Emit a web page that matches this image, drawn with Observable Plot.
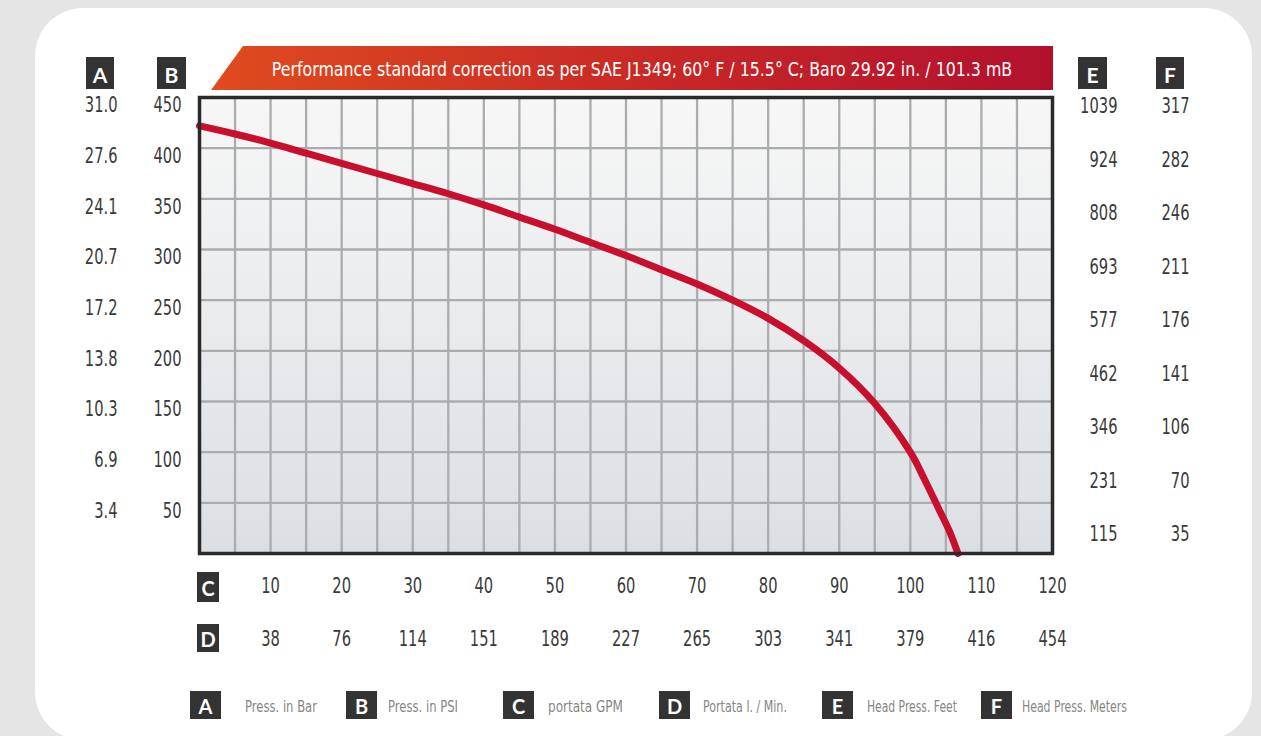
<!DOCTYPE html>
<html><head><meta charset="utf-8">
<script src="https://cdn.jsdelivr.net/npm/d3@7"></script>
<script src="https://cdn.jsdelivr.net/npm/@observablehq/plot@0.6"></script>
<style>
html,body{margin:0;padding:0;background:#e5e5e5;}
#wrap{position:relative;width:1261px;height:736px;overflow:hidden;background:#e5e5e5;}
#panel{position:absolute;left:35px;top:8px;width:1217px;height:732px;background:#fff;border-radius:48px;}
.layer{position:absolute;left:0;top:0;}
</style></head><body><div id="wrap"><div id="panel"></div></div>
<script>
// ---- data ----
const gpm = [0, 5, 10, 15, 20, 25, 30, 35, 40, 45, 50, 55, 60, 65, 70, 75, 80, 85, 90, 95, 100, 102, 104, 105.5, 106.7];
const psi = [422, 414, 405, 395, 385, 375, 365, 355, 344, 332, 320, 307, 294, 280, 266, 250, 232, 210, 183, 148, 100, 73, 44, 22, 0];

const psiTicks = [450, 400, 350, 300, 250, 200, 150, 100, 50];
const barLabels = ["31.0", "27.6", "24.1", "20.7", "17.2", "13.8", "10.3", "6.9", "3.4"];
const psiLabels = ["450", "400", "350", "300", "250", "200", "150", "100", "50"];
const feetLabels = ["1039", "924", "808", "693", "577", "462", "346", "231", "115"];
const meterLabels = ["317", "282", "246", "211", "176", "141", "106", "70", "35"];

const gpmTicks = [10, 20, 30, 40, 50, 60, 70, 80, 90, 100, 110, 120];
const gpmLabels = ["10", "20", "30", "40", "50", "60", "70", "80", "90", "100", "110", "120"];
const lpmLabels = ["38", "76", "114", "151", "189", "227", "265", "303", "341", "379", "416", "454"];

const gridX = [5,10,15,20,25,30,35,40,45,50,55,60,65,70,75,80,85,90,95,100,105,110,115];
const gridY = [50,100,150,200,250,300,350,400];

const bannerText = "Performance standard correction as per SAE J1349; 60° F / 15.5° C; Baro 29.92 in. / 101.3 mB";
const legendLetters = ["A", "B", "C", "D", "E", "F"];
const legendTexts = ["Press. in Bar", "Press. in PSI", "portata GPM", "Portata l. / Min.", "Head Press. Feet", "Head Press. Meters"];

// ---- styles ----
const FONT = "'DejaVu Sans', sans-serif";
const numStyle = {fontSize: 21, fill: "#3a3a3a", lineAnchor: "middle"};
const W = 1261, H = 736;
const wrap = document.getElementById("wrap");

const curveData = gpm.map((g, i) => ({gpm: g, psi: psi[i]}));

const main = Plot.plot({
  width: W, height: H,
  marginLeft: 199, marginRight: 209, marginTop: 97, marginBottom: 183,
  x: {domain: [0, 120], axis: null},
  y: {domain: [0, 450], axis: null},
  style: {background: "transparent", fontFamily: FONT, overflow: "visible"},
  marks: [
    Plot.frame({fill: "url(#plotBg)", stroke: "none"}),
    Plot.ruleX(gridX, {stroke: "#aaadb0", strokeWidth: 2.3}),
    Plot.ruleY(gridY, {stroke: "#aaadb0", strokeWidth: 2.3}),
    Plot.line(curveData, {x: "gpm", y: "psi", stroke: "#c8102e", strokeWidth: 7, curve: "catmull-rom"}),
    Plot.frame({stroke: "#2a2a2a", strokeWidth: 3.5}),
    Plot.text(psiTicks, {y: d => d, text: (d, i) => barLabels[i], frameAnchor: "left", dx: -82, dy: 8, textAnchor: "end", ...numStyle}),
    Plot.text(psiTicks, {y: d => d, text: (d, i) => psiLabels[i], frameAnchor: "left", dx: -18, dy: 8, textAnchor: "end", ...numStyle}),
    Plot.text(gpmTicks, {x: d => d, text: (d, i) => gpmLabels[i], frameAnchor: "bottom", dy: 33, ...numStyle}),
    Plot.text(gpmTicks, {x: d => d, text: (d, i) => lpmLabels[i], frameAnchor: "bottom", dy: 86, ...numStyle})
  ]
});
main.classList.add("layer");
const defs = d3.select(main).insert("defs", ":first-child");
const g1 = defs.append("linearGradient").attr("id", "plotBg").attr("x1", 0).attr("y1", 0).attr("x2", 0).attr("y2", 1);
g1.append("stop").attr("offset", "0%").attr("stop-color", "#f7f7f7");
g1.append("stop").attr("offset", "100%").attr("stop-color", "#dbdfe3");
wrap.appendChild(main);

// right-hand label columns (E, F) sit on their own, slightly taller row spacing
const right = Plot.plot({
  width: W, height: H,
  marginLeft: 199, marginRight: 209, marginTop: 106, marginBottom: 148.5,
  x: {domain: [0, 120], axis: null},
  y: {domain: [0, 450], axis: null},
  style: {background: "transparent", fontFamily: FONT, overflow: "visible"},
  marks: [
    Plot.text(psiTicks, {y: d => d, text: (d, i) => feetLabels[i], frameAnchor: "right", dx: 65, textAnchor: "end", ...numStyle}),
    Plot.text(psiTicks, {y: d => d, text: (d, i) => meterLabels[i], frameAnchor: "right", dx: 137, textAnchor: "end", ...numStyle})
  ]
});
right.classList.add("layer");
right.style.pointerEvents = "none";
wrap.appendChild(right);

// horizontally squeeze a text element about its own anchor point
function squeeze(t, k) {
  const ax = parseFloat(t.getAttribute("x") || 0);
  const prev = t.getAttribute("transform") || "";
  t.setAttribute("transform", `${prev} translate(${ax},0) scale(${k},1) translate(${-ax},0)`.trim());
}
main.querySelectorAll("text").forEach(t => squeeze(t, 0.7));
right.querySelectorAll("text").forEach(t => squeeze(t, 0.7));

// ---- decoration: banner, letter boxes, legend ----
const deco = d3.create("svg").attr("width", W).attr("height", H).attr("class", "layer")
  .style("pointer-events", "none");
wrap.appendChild(deco.node());
const dd = deco.append("defs");
const bg = dd.append("linearGradient").attr("id", "bannerGrad").attr("x1", 0).attr("x2", 1).attr("y1", 0).attr("y2", 0);
bg.append("stop").attr("offset", "0%").attr("stop-color", "#e04b1e");
bg.append("stop").attr("offset", "50%").attr("stop-color", "#c92a26");
bg.append("stop").attr("offset", "100%").attr("stop-color", "#b3102e");
deco.append("polygon").attr("points", "243,46 1053,46 1053,90 211,90").attr("fill", "url(#bannerGrad)");

function fitText(sel, width) {
  const n = sel.node();
  const len = n.getComputedTextLength();
  if (len > 0) squeeze(n, width / len);
}
fitText(deco.append("text").attr("x", 642).attr("y", 69).attr("text-anchor", "middle").attr("dominant-baseline", "central")
  .attr("font-family", FONT).attr("font-size", 20).attr("fill", "#fff").text(bannerText), 741);

function box(letter, x, y, w, h, fs) {
  deco.append("rect").attr("x", x).attr("y", y).attr("width", w).attr("height", h).attr("fill", "#333333");
  deco.append("text").attr("x", x + w / 2).attr("y", y + h / 2 + 1).attr("text-anchor", "middle")
    .attr("dominant-baseline", "central").attr("font-family", "Lato, 'DejaVu Sans', sans-serif")
    .attr("font-weight", 700).attr("font-size", fs).attr("fill", "#fff").text(letter);
}
// column headers
box("A", 86, 57, 28, 32, 21);
box("B", 157, 57, 29, 32, 21);
box("E", 1078, 57, 29, 32, 21);
box("F", 1156, 57, 28, 32, 21);
box("C", 197, 572, 22, 30, 20);
box("D", 197, 624, 22, 28, 20);

// bottom legend
const legX = [190, 346, 503, 659, 822, 981];
const legTextX = [245, 388, 548, 703, 867, 1022];
const legTextW = [72, 70, 75, 84, 90, 105];
legendLetters.forEach((L, i) => {
  box(L, legX[i], 691, 31, 28, 20);
  fitText(deco.append("text").attr("x", legTextX[i]).attr("y", 706).attr("dominant-baseline", "central")
    .attr("font-family", FONT).attr("font-size", 16).attr("fill", "#858585").text(legendTexts[i]), legTextW[i]);
});
</script></body></html>
